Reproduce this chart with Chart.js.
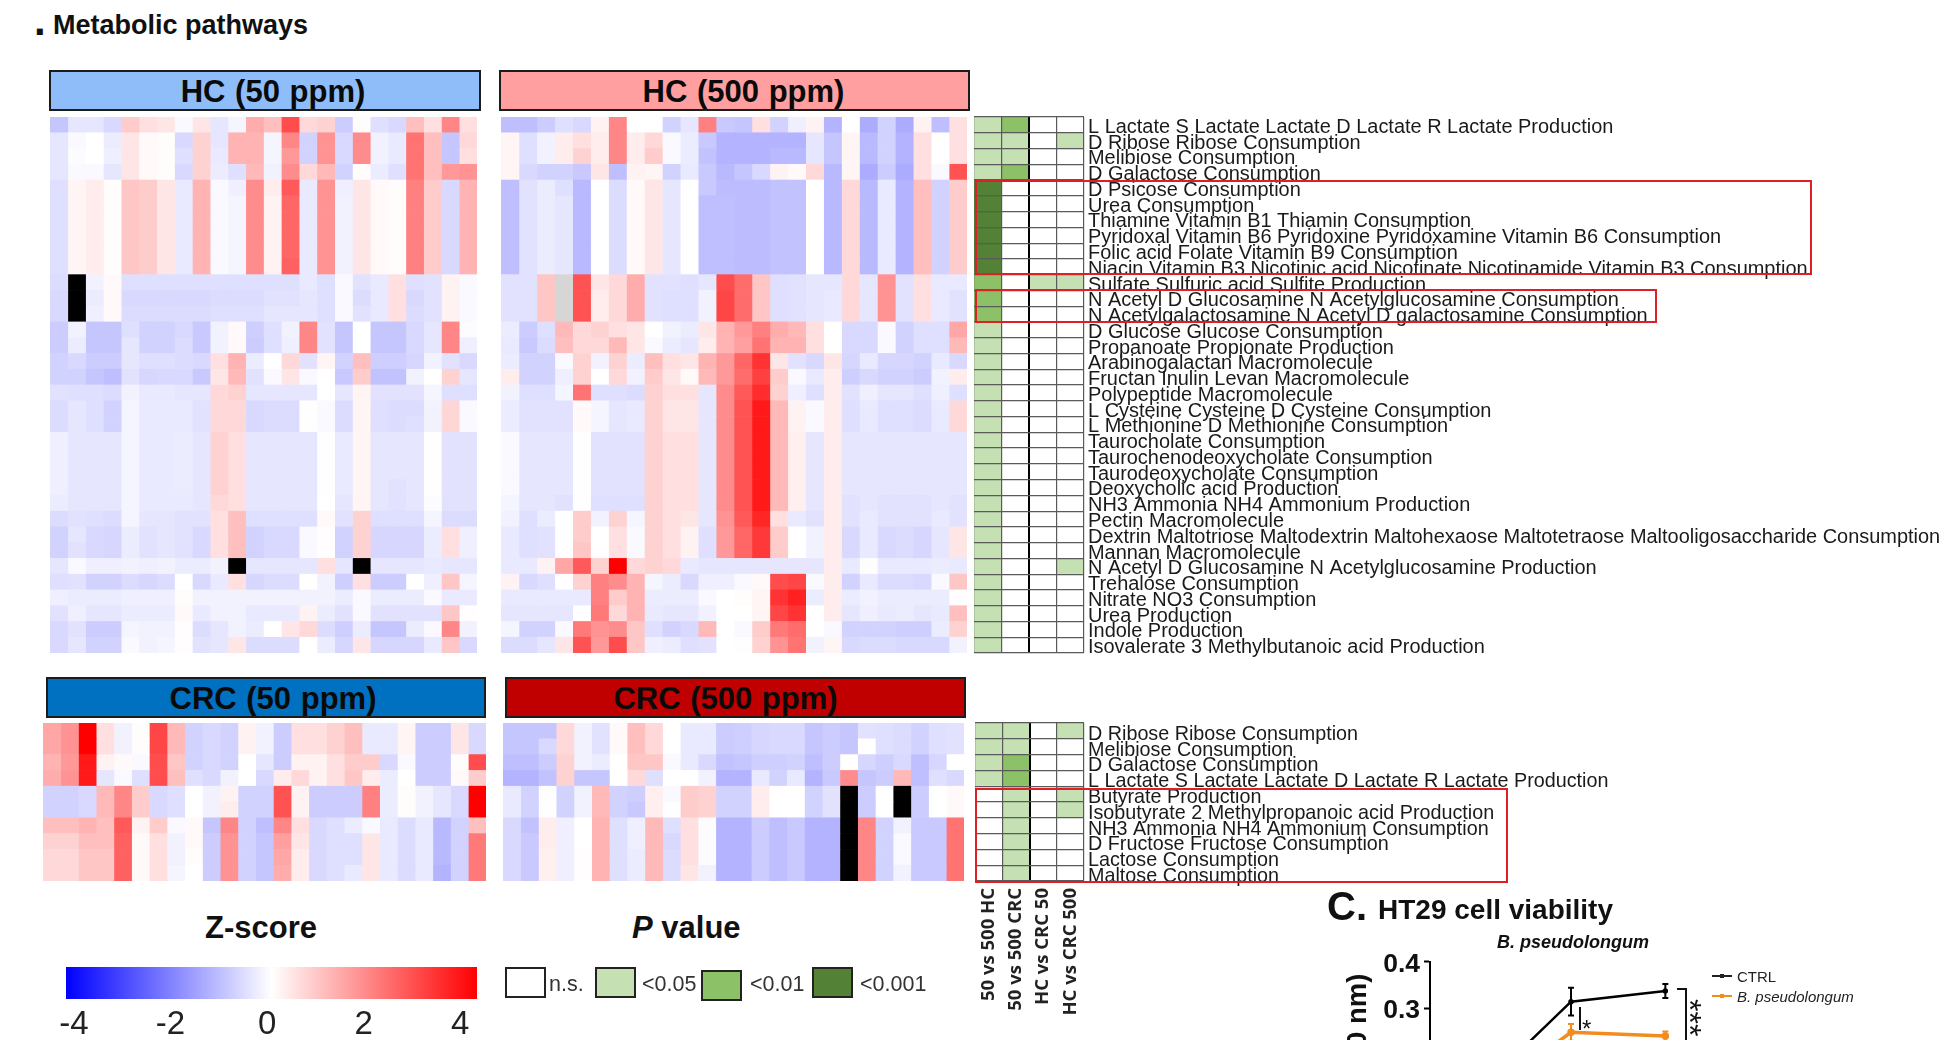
<!DOCTYPE html>
<html><head><meta charset="utf-8">
<script src="https://cdn.jsdelivr.net/npm/chart.js@4"></script>
<style>
html,body{margin:0;padding:0;width:1946px;height:1040px;overflow:hidden;background:#fff;font-family:"Liberation Sans",Arial,sans-serif;color:#111}
canvas{position:absolute;display:block}
.t{position:absolute;white-space:nowrap;line-height:1}
.hdr{position:absolute;box-sizing:border-box;border:2px solid #1c1c1c;display:flex;align-items:center;justify-content:center;font-weight:bold;font-size:31px;word-spacing:1px;color:#0a0a0a}
.box{position:absolute;box-sizing:border-box;border:2px solid #dd1f26;z-index:5;pointer-events:none}
.sw{position:absolute;box-sizing:border-box;border:2px solid #222}
.ln{position:absolute;background:#111}
</style></head><body>
<script>
const X = null;      // black cell: no value
const G = 'gray';    // grey cell

const pathwaysTop = ["L Lactate S Lactate Lactate D Lactate R Lactate Production","D Ribose Ribose Consumption","Melibiose Consumption","D Galactose Consumption","D Psicose Consumption","Urea Consumption","Thiamine Vitamin B1 Thiamin Consumption","Pyridoxal Vitamin B6 Pyridoxine Pyridoxamine Vitamin B6 Consumption","Folic acid Folate Vitamin B9 Consumption","Niacin Vitamin B3 Nicotinic acid Nicotinate Nicotinamide Vitamin B3 Consumption","Sulfate Sulfuric acid Sulfite Production","N Acetyl D Glucosamine N Acetylglucosamine Consumption","N Acetylgalactosamine N Acetyl D galactosamine Consumption","D Glucose Glucose Consumption","Propanoate Propionate Production","Arabinogalactan Macromolecule","Fructan Inulin Levan Macromolecule","Polypeptide Macromolecule","L Cysteine Cysteine D Cysteine Consumption","L Methionine D Methionine Consumption","Taurocholate Consumption","Taurochenodeoxycholate Consumption","Taurodeoxycholate Consumption","Deoxycholic acid Production","NH3 Ammonia NH4 Ammonium Production","Pectin Macromolecule","Dextrin Maltotriose Maltodextrin Maltohexaose Maltotetraose Maltooligosaccharide Consumption","Mannan Macromolecule","N Acetyl D Glucosamine N Acetylglucosamine Production","Trehalose Consumption","Nitrate NO3 Consumption","Urea Production","Indole Production","Isovalerate 3 Methylbutanoic acid Production"];
const pathwaysBottom = ["D Ribose Ribose Consumption","Melibiose Consumption","D Galactose Consumption","L Lactate S Lactate Lactate D Lactate R Lactate Production","Butyrate Production","Isobutyrate 2 Methylpropanoic acid Production","NH3 Ammonia NH4 Ammonium Consumption","D Fructose Fructose Consumption","Lactose Consumption","Maltose Consumption"];
const comparisons = ["50 vs 500 HC","50 vs 500 CRC","HC vs CRC 50","HC vs CRC 500"];
const zTicks = [-4,-2,0,2,4];

const hc50 = [
[-.9,-.4,-.4,-.6,.8,.5,.4,-.1,.4,-.4,-.15,1.3,1,2.8,.6,.7,-.8,.05,-.5,-.6,1,.5,1.9,.5],
[-.4,-.1,0,-.3,.4,.1,.05,-.6,.7,-.4,1.2,1.2,-.15,1.9,-.7,1.7,-.6,1.8,-.2,-.35,2.2,1,-.9,.6],
[-.4,-.05,0,-.25,.4,.1,.05,-.5,.7,-.35,1.2,1.2,-.15,1.6,-.7,1.7,-.6,1.8,-.2,-.35,2.2,1,-.9,.5],
[-.4,-.1,-.1,-.4,.4,.1,.05,-.6,.7,-.3,-.5,1.1,-.2,1.8,.6,1.1,-.7,.05,-.3,-.5,2.2,1,1.6,1.7],
[-.5,.15,.3,.05,.9,.8,.4,-.35,1.2,-.1,-.25,1.8,.3,2.6,-.35,1.7,-.25,.4,.1,.05,2,.8,-.6,1.2],
[-.5,.15,.3,.05,.9,.8,.4,-.35,1.2,-.1,-.15,1.8,.2,2.4,-.35,1.7,-.2,.4,.1,.05,2,.8,-.6,1.2],
[-.5,.15,.3,.05,.9,.8,.4,-.35,1.2,-.1,-.15,1.8,.2,2.4,-.35,1.7,-.2,.4,.1,.05,2,.8,-.6,1.2],
[-.5,.15,.3,.05,.9,.8,.4,-.35,1.2,-.1,-.15,1.8,.2,2.4,-.35,1.7,-.2,.4,.1,.05,2,.8,-.6,1.2],
[-.5,.15,.3,.05,.9,.8,.4,-.35,1.2,-.1,-.15,1.8,.2,2.4,-.35,1.7,-.2,.4,.1,.05,2,.8,-.6,1.2],
[-.5,.15,.3,.05,.9,.8,.4,-.35,1.2,-.1,-.15,1.8,.2,2.5,-.35,1.7,-.2,.4,.1,.05,2,.8,-.6,1.2],
[-.55,X,-.2,.1,-.5,-.5,-.5,-.5,-.5,-.5,-.5,-.5,-.5,-.5,-.35,-.5,-.1,-.45,-.35,.5,-.5,-.45,.2,-.1],
[-.6,X,-.3,.1,-.6,-.6,-.6,-.6,-.6,-.55,-.55,-.55,-.45,-.45,-.4,-.5,-.1,-.55,-.35,.5,-.6,-.45,.2,-.1],
[-.6,X,-.25,.1,-.55,-.55,-.55,-.55,-.55,-.5,-.5,-.5,-.4,-.4,-.4,-.5,-.1,-.45,-.35,.5,-.55,-.45,.2,-.1],
[-.8,-.2,-.9,-.9,-.5,-.7,-.7,-.6,-.85,-.2,.1,-.75,-.5,-.2,1.9,-.45,-.9,0,-.9,-.9,-.6,-.4,1.9,-.05],
[-.8,-.3,-.9,-.9,-.4,-.7,-.7,-.55,-.85,-.2,.1,-.8,-.5,-.25,1.9,-.45,-.9,0,-.9,-.9,-.6,-.4,1.9,-.25],
[-.7,-.6,-.8,-.8,-.4,-.5,-.5,-.55,-.6,.5,1.2,-.3,0,.6,-.45,.15,-.7,1,-.75,-.75,-.65,-.2,-.45,-.6],
[-.7,-.7,-.9,-1,-.45,-.65,-.6,-.6,-.85,.4,1.1,-.45,-.1,.4,-.1,0,-.85,.8,-.95,-.95,-.2,0,.7,-.4],
[-.45,-.5,-.5,-.55,-.2,-.35,-.35,-.4,-.4,.6,.7,-.4,-.4,-.4,-.4,0,-.4,.15,-.45,-.45,-.45,-.15,-.5,-.5],
[-.55,-.4,-.5,-.7,-.15,-.35,-.35,-.35,-.45,.6,.6,-.6,-.55,-.55,-.02,-.1,-.55,.15,-.5,-.55,-.55,-.2,.65,-.1],
[-.55,-.4,-.5,-.7,-.15,-.35,-.35,-.35,-.45,.6,.6,-.6,-.55,-.55,-.02,-.1,-.55,.15,-.5,-.55,-.5,-.2,.65,-.1],
[-.25,-.4,-.4,-.4,-.15,-.35,-.35,-.3,-.4,.7,.5,-.4,-.4,-.4,-.4,-.02,-.35,.15,-.4,-.4,-.4,.03,-.45,-.45],
[-.25,-.4,-.4,-.4,-.15,-.35,-.35,-.3,-.4,.7,.5,-.4,-.4,-.4,-.4,-.02,-.35,.15,-.4,-.4,-.4,.03,-.45,-.45],
[-.25,-.4,-.4,-.4,-.15,-.35,-.35,-.3,-.4,.7,.5,-.4,-.4,-.4,-.4,-.02,-.35,.15,-.4,-.4,-.4,.03,-.45,-.45],
[-.25,-.4,-.4,-.4,-.15,-.35,-.35,-.3,-.4,.7,.5,-.4,-.4,-.4,-.4,-.02,-.35,.15,-.4,-.45,-.4,.03,-.45,-.45],
[-.3,-.4,-.4,-.4,-.15,-.35,-.35,-.35,-.4,.6,.5,-.4,-.4,-.4,-.4,0,-.4,.15,-.4,-.45,-.4,-.05,-.45,-.45],
[-.55,-.45,-.5,-.55,-.15,-.4,-.4,-.45,-.45,.5,1,-.5,-.5,-.5,-.5,.1,-.45,.7,-.5,-.5,-.5,-.15,-.55,-.55],
[-.7,-.4,-.6,-.65,-.3,-.45,-.4,-.45,-.6,.5,1,-.7,-.6,-.6,-.1,.03,-.7,.7,-.65,-.65,-.65,-.3,.5,-.25],
[-.7,-.45,-.6,-.65,-.3,-.45,-.4,-.45,-.6,.5,1,-.7,-.6,-.6,-.1,.03,-.7,.7,-.65,-.65,-.65,-.3,.5,-.25],
[-.4,-.1,-.25,-.25,-.2,-.25,-.2,-.3,-.3,-.2,X,-.4,-.4,-.4,-.4,.5,-.4,X,-.4,-.4,-.4,-.35,-.4,-.4],
[-.5,-.45,-.7,-.7,-.55,-.65,-.55,0,-.6,-.35,.5,-.65,-.55,-.55,0,-.2,-.75,.5,-.8,-.8,0,-.25,.9,-.15],
[-.25,-.3,-.3,-.3,-.25,-.25,-.25,.05,-.2,-.2,-.2,-.2,-.2,-.2,-.2,-.2,-.3,-.1,-.3,-.3,-.3,-.1,-.35,-.35],
[-.45,-.25,-.4,-.4,-.3,-.3,-.3,.1,-.35,-.2,-.2,-.35,-.35,-.35,.2,-.3,-.45,-.1,-.45,-.45,-.45,-.45,.9,.03],
[-.6,-.45,-.8,-.8,-.15,-.2,-.2,.03,-.55,-.4,-.2,-.3,0,.4,.6,-.55,-.75,-.3,-.9,-.9,-.3,-.1,1.9,-.2],
[-.6,-.4,-.7,-.7,-.1,-.2,-.15,.03,-.45,-.4,.4,-.55,-.55,-.55,0,-.3,-.65,.4,-.65,-.65,-.65,-.35,.9,-.6]
];

const hc500 = [
[-1,-1,-.8,-.5,-.6,.2,1.9,0,0,-.7,-.4,2,-.85,-.9,.5,-.7,-.25,.2,-1.2,0,-1.3,-.7,-1.3,.2,-1,.5],
[.15,-.5,-.2,.3,.5,.3,1.9,.3,.6,-.1,-.3,-.85,-1.2,-1.2,-1.2,-1.2,-1.2,-.4,-.9,.15,-1.1,-.7,-1.2,.5,0,.5],
[.15,-.5,-.2,.3,.7,.3,1.9,.3,.8,-.1,-.3,-.95,-1.2,-1.2,-1.2,-1.1,-1.1,-.4,-.9,.15,-1.1,-.7,-1.2,.5,0,.5],
[.15,-.6,-.7,-.7,-.85,.4,-1,.2,.15,-.7,-.35,-.85,-1.1,-.9,-.6,.2,.1,.6,-1.1,.15,-1.3,-.8,-1.3,.5,-.1,2.7],
[-1,-.45,-.3,-.5,-1.1,0,-.55,.1,.4,-.4,0,-.85,-1.05,-1.05,-1.05,-.95,-.95,0,-1.1,.6,-1.1,-.35,-1.2,1,-.7,.8],
[-1,-.45,-.3,-.4,-1.1,0,-.55,.1,.4,-.4,0,-1,-1,-1.05,-1.05,-.95,-.95,0,-1.1,.6,-1.1,-.35,-1.2,1,-.7,.8],
[-1,-.45,-.3,-.4,-1.1,0,-.55,.1,.4,-.4,0,-1,-1,-1.05,-1.05,-.95,-.95,0,-1.1,.6,-1.1,-.35,-1.2,1,-.7,.8],
[-1,-.45,-.3,-.4,-1.1,0,-.55,.1,.4,-.4,0,-1,-1,-1.05,-1.05,-.95,-.95,0,-1.1,.6,-1.1,-.35,-1.2,1,-.7,.8],
[-1,-.45,-.3,-.4,-1.1,0,-.55,.1,.4,-.4,0,-1,-1,-1.05,-1.05,-.95,-.95,0,-1.1,.6,-1.1,-.35,-1.2,1,-.7,.8],
[-1,-.45,-.3,-.4,-1.1,0,-.55,.1,.4,-.4,0,-1,-1,-1.05,-1.05,-.95,-.95,0,-1.1,.6,-1.1,-.35,-1.2,1,-.7,.8],
[-.45,-.45,.9,G,2.7,.4,.6,1.3,-.45,-.45,-.5,-.4,2.8,2.3,.9,-.5,-.45,-.4,-.4,.6,-.4,1.7,-.45,.5,-.35,-.35],
[-.45,-.45,.9,G,2.7,.3,.6,1.3,-.45,-.5,-.5,-.2,2.9,2.3,.9,-.5,-.45,-.4,-.35,.6,-.4,1.7,-.45,.5,-.35,-.45],
[-.45,-.45,.9,G,2.7,.3,.6,1.3,-.45,-.5,-.5,-.2,2.9,2.3,.9,-.5,-.45,-.4,-.35,.6,-.4,1.7,-.45,.5,-.35,-.45],
[-.3,-.8,-.5,1.1,.6,.7,.5,.4,0,-.2,-.3,.4,1.2,1.6,2,1.3,1.1,.5,0,-.6,-.6,-.1,-.7,-.5,-.5,1.4],
[-.35,-.85,-.55,1,.6,.6,1.1,.4,-.1,-.3,-.4,.3,1.2,1.5,2.2,1.2,1.2,.5,0,-.6,-.6,-.1,-.7,-.5,-.5,1.1],
[-.3,-.7,-.7,-.1,.7,-.2,.7,-.3,1,.5,.4,1.2,1.6,2.4,3.2,.4,-.45,-.6,.4,-.65,-.35,-.65,-.65,-.7,-.35,-.6],
[.3,-.7,-.7,-.25,.7,0,.6,-.2,.8,.4,.1,1.1,1.6,2.3,3,.8,-.1,-.35,.3,-.75,-.6,-.7,-.7,-.8,-.2,.3],
[-.2,-.5,-.5,-.15,2.2,-.5,-.5,-.55,.7,.5,.5,-.4,1.8,2.6,3.3,.7,-.25,-.5,.3,-.45,-.25,-.4,-.4,-.5,-.25,-.5],
[-.3,-.45,-.45,-.45,.1,-.15,-.4,-.35,.7,.4,.4,-.4,1.8,2.7,3.6,1.1,.2,-.1,.3,-.5,-.35,-.5,-.5,-.55,-.35,.6],
[-.3,-.45,-.45,-.45,.1,-.15,-.4,-.35,.7,.4,.4,-.4,1.8,2.7,3.6,1.1,.2,-.1,.3,-.5,-.35,-.5,-.5,-.55,-.35,.6],
[-.1,-.4,-.4,-.4,.02,-.45,-.45,-.45,.7,.5,.5,-.4,1.8,2.7,3.6,1.1,.25,-.4,.3,-.4,-.4,-.4,-.4,-.4,-.4,-.4],
[-.1,-.4,-.4,-.4,.02,-.45,-.45,-.45,.7,.5,.5,-.4,1.8,2.7,3.6,1.1,.25,-.4,.3,-.4,-.4,-.4,-.4,-.4,-.4,-.4],
[-.1,-.4,-.4,-.4,.02,-.45,-.45,-.45,.7,.5,.5,-.4,1.8,2.7,3.6,1.1,.25,-.4,.3,-.4,-.4,-.4,-.4,-.4,-.4,-.4],
[-.1,-.4,-.4,-.4,.02,-.45,-.45,-.45,.7,.5,.5,-.4,1.8,2.7,3.6,1.1,.25,-.4,.3,-.4,-.4,-.4,-.4,-.4,-.4,-.4],
[-.15,-.4,-.4,-.45,.02,-.5,-.5,-.5,.7,.5,.5,-.4,1.8,2.7,3.6,1.1,.25,-.4,.3,-.45,-.4,-.45,-.45,-.45,-.4,-.45],
[-.2,-.5,-.3,0,.8,-.2,.7,-.15,.7,.5,.4,-.4,1.7,2.6,3.4,.5,-.35,-.45,.3,-.45,-.35,-.45,-.45,-.45,-.35,-.45],
[-.35,-.5,-.45,0,.8,0,.5,-.1,.7,.5,.2,-.5,1.6,2.4,3.1,.8,0,-.2,.3,-.6,-.35,-.6,-.55,-.65,-.4,.4],
[-.35,-.5,-.45,0,.9,0,.5,-.1,.7,.5,.2,-.5,1.6,2.4,3.1,.8,0,-.2,.3,-.6,-.35,-.6,-.55,-.65,-.4,.4],
[-.35,-.35,.2,1.4,2.6,.7,4,.6,.7,.6,-.35,-.4,-.4,-.4,-.4,-.4,-.4,-.4,.3,-.35,.05,-.35,-.35,-.35,-.3,-.35],
[.2,-.6,-.5,0,.7,2,1.8,1.2,-.15,-.3,-.6,-.25,-.25,-.1,.1,2.8,2.9,-.1,.3,-.7,-.35,-.55,-.55,-.6,-.1,.9],
[-.35,-.35,-.35,-.35,-.35,2,.8,1.2,-.3,-.3,-.3,-.1,0,.05,.15,3.2,3.5,-.3,.3,-.3,-.2,-.3,-.3,-.3,-.3,.02],
[-.4,-.4,-.4,-.4,-.02,2.1,.6,1.2,-.35,-.4,-.4,-.2,0,0,.15,2.9,3.2,0,.3,-.4,-.25,-.35,-.3,-.4,-.35,1],
[-.15,-.7,-.7,-.1,2.1,1.7,1.8,.9,-.5,-.7,-.6,1.1,0,-.1,.8,2.1,2.3,0,-.1,-.7,-.7,-.7,-.75,-.75,-.3,.7],
[-.55,-.55,-.4,.4,2.7,1.6,2.8,.9,-.25,-.3,-.5,-.45,0,.02,.7,1.7,2.2,-.2,.15,-.6,-.55,-.55,-.6,-.6,-.6,-.2]
];

const crc50 = [
[1.4,1.7,4,.5,-.2,.05,2.9,1.1,-.7,-.6,-.7,.2,-.2,-.8,.5,.5,.7,1,-.35,-.35,.15,-.8,-.8,.4,-.6],
[1.4,1.7,4,.5,-.2,.05,2.9,1.1,-.7,-.6,-.7,.2,-.2,-.8,.5,.5,.7,1,-.35,-.35,.15,-.8,-.8,.4,-.6],
[1.2,1.6,3.6,.2,.1,-.1,2.8,.9,-.7,-.6,-.7,0,-.4,-.8,.2,.2,.5,.8,.8,-.6,-.1,-.8,-.8,.05,2.8],
[1.3,1.7,3.6,-.4,-.1,-.5,2.8,1,-.5,-.6,-.2,0,-.6,.3,.6,.2,.5,.9,.3,-.3,0,-.8,-.8,.1,.8],
[-.7,-.7,-.6,1.1,1.9,.8,-.6,-.5,0,-.2,.2,-.7,-.7,2.7,.2,-.8,-.8,-.8,2,-.3,.05,-.2,-.4,-.6,4],
[-.7,-.7,-.6,1.1,1.9,.8,-.6,-.5,0,-.2,.3,-.7,-.7,2.7,.2,-.8,-.8,-.8,2,-.3,.05,-.2,-.4,-.6,4],
[1,1,1.2,1,2.6,.2,.8,-.1,.1,-.9,1.9,-.7,-1,1.9,.5,-.6,-.5,-.3,-.1,-.35,-.55,-.35,-1.1,-.7,1],
[.7,.7,1,1,2.5,.1,.5,-.2,.1,-.8,1.7,-.7,-.9,1.5,.4,-.6,-.5,-.5,.4,-.35,-.55,-.35,-1.1,-.7,2.1],
[.6,.6,.9,.9,2.5,.1,.5,-.2,.05,-.8,1.7,-.7,-.9,1.4,.3,-.6,-.5,-.5,.4,-.35,-.55,-.35,-1.1,-.7,2.1],
[.6,.6,.9,.9,2.5,.1,.5,-.15,0,-.8,1.7,-.7,-.9,1.3,.3,-.6,-.5,-.35,.4,-.35,-.55,-.35,-1.2,-.7,2.1]
];

const crc500 = [
[-.9,-.9,-.9,.6,-.2,-.45,.1,1,.6,0,-.35,-.35,-.8,-.75,-.65,-.6,-.6,-.9,-.8,-.9,-.45,-.5,-.55,-.7,-.5,-.45],
[-.9,-.9,-.6,.6,-.2,-.45,.1,1,.6,0,-.35,-.35,-.8,-.75,-.65,-.6,-.6,-.9,-.8,-.9,0,-.5,-.55,-.7,-.5,-.45],
[-1,-1,-.8,.7,-.2,-.3,0,.9,.9,-.1,-.35,-.6,-.95,-.9,-.75,-.75,-.7,-1,-.8,0,-.65,-.75,-.6,-1,-.65,0],
[-1.2,-1.2,-.95,.7,-.9,-.9,0,.6,-.5,0,0,-.2,-1.2,-1.2,-.35,-.7,-.35,-1.2,-.85,1.8,-.9,-.8,1.1,-1,-.5,-.6],
[-.35,-.7,-.02,-.7,-.2,1.1,-.7,-.75,.25,-.1,.8,.7,-.7,-.7,.3,0,0,-.7,-.45,X,-.8,0,X,-.8,0,.1],
[-.35,-.7,-.02,-.7,-.2,1.1,-.7,-.85,.25,-.02,.8,.7,-.7,-.7,.3,0,0,-.7,-.45,X,-.8,0,X,-.8,0,.1],
[-.6,-.95,.3,-.25,0,1.2,-.5,-.25,1.1,-.5,.5,-.05,-1.2,-1.2,-.8,-1,-.85,-1.2,-1.2,X,1.9,-.7,-.2,-.85,-.85,2.2],
[-.6,-.85,.3,-.25,0,1.2,-.5,-.25,1.1,-.6,.5,-.05,-1.2,-1.2,-.8,-1,-.85,-1.2,-1.2,X,1.9,-.7,-.1,-.85,-.85,2.2],
[-.6,-.85,.25,-.25,.03,1.2,-.5,-.3,1.1,-.55,.5,-.05,-1.2,-1.2,-.8,-1,-.85,-1.2,-1.2,X,1.9,-.7,-.1,-.85,-.85,2.2],
[-.6,-.85,.25,-.25,.03,1.2,-.5,-.3,1.1,-.55,.4,-.2,-1.2,-1.2,-.8,-1,-.85,-1.2,-1.2,X,1.9,-.7,-.2,-.85,-.85,2.2]
];

// significance level: 0 n.s., 1 <0.05, 2 <0.01, 3 <0.001
const pTop = [[1,2,0,0],[1,1,0,1],[1,1,0,0],[1,2,0,0],[3,0,0,0],[3,0,0,0],[3,0,0,0],[3,0,0,0],[3,0,0,0],[3,0,0,0],[2,0,1,1],[2,0,0,0],[2,0,0,0],[1,0,0,0],[1,0,0,0],[1,0,0,0],[1,0,0,0],[1,0,0,0],[1,0,0,0],[1,0,0,0],[1,0,0,0],[1,0,0,0],[1,0,0,0],[1,0,0,0],[1,0,0,0],[1,0,0,0],[1,0,0,0],[1,0,0,0],[1,0,0,1],[1,0,0,0],[1,0,0,0],[1,0,0,0],[1,0,0,0],[1,0,0,0]];
const pBottom = [[1,1,0,1],[1,1,0,0],[1,2,0,0],[1,2,0,0],[0,1,0,1],[0,1,0,1],[0,1,0,0],[0,1,0,0],[0,1,0,0],[0,1,0,0]];
const pColors = ['#ffffff','#c5e0b3','#8cc168','#538135'];
const pLegend = ['n.s.','<0.05','<0.01','<0.001'];

// Panel C
const timeIdx = [0,1,2];
const ctrlValues = [.118,.314,.337];
const ctrlErrors = [.012,.03,.015];
const bpValues = [.1,.248,.24];
const bpErrors = [.01,.018,.01];
const yTicksC = [0,.1,.2,.3,.4];

Chart.defaults.animation = false;
Chart.defaults.responsive = false;
Chart.defaults.plugins.legend.display = false;
Chart.defaults.plugins.tooltip.enabled = false;
Chart.defaults.font.family = '"Liberation Sans"';

function addCanvas(l,t,w,h){
  const c=document.createElement('canvas');
  c.width=Math.round(w);c.height=Math.round(h);
  c.style.left=l+'px';c.style.top=t+'px';
  document.body.appendChild(c);return c;
}
function zColor(z){
  if(z===null) return '#000000';
  if(z==='gray') return '#d6d6d6';
  const a=Math.min(1,Math.abs(z)/4), v=Math.round(255*(1-a));
  return z<0?`rgb(${v},${v},255)`:`rgb(255,${v},${v})`;
}
function cellDatasets(rowLabels,matrix,colorOf){
  return matrix[0].map((_,c)=>({
    label:'col '+(c+1),
    data:matrix.map((r,i)=>({x:1,y:rowLabels[i],z:r[c]})),
    backgroundColor:matrix.map(r=>colorOf(r[c])),
    borderWidth:0,barPercentage:1,categoryPercentage:1
  }));
}
function heat(x0,x1,y0,y1,rowLabels,matrix){
  const w=x1-x0,h=y1-y0;
  new Chart(addCanvas(x0,y0,w,h),{type:'bar',
    data:{labels:rowLabels,datasets:cellDatasets(rowLabels,matrix,zColor)},
    options:{indexAxis:'y',layout:{padding:0},scales:{
      x:{stacked:true,display:false,min:0,max:matrix[0].length},
      y:{stacked:true,display:false}
    }}});
}
function pGrid(x0,x1,y0,y1,rowLabels,matrix,showCols,labelSize,labelShift){
  const pad=12, axisW=1946-x1, bottomH=showCols?140:0;
  new Chart(addCanvas(x0,y0-pad,1946-x0,y1-y0+pad+(showCols?bottomH:pad)),{type:'bar',
    data:{labels:rowLabels,datasets:cellDatasets(rowLabels,matrix,v=>pColors[v])},
    options:{indexAxis:'y',layout:{padding:{top:pad,bottom:showCols?0:pad,left:0,right:0}},scales:{
      x:{stacked:true,display:false,min:0,max:4},
      xCols:{type:'category',axis:'x',labels:comparisons,position:'bottom',offset:true,
        afterFit:s=>{s.height=bottomH;s.paddingLeft=0;s.paddingRight=0;},
        border:{display:false},
        grid:{offset:true,z:1,drawTicks:false,
          color:c=>c.index===2?'#000':'#5a5a5a',lineWidth:c=>c.index===2?2:1.2},
        ticks:{display:showCols,minRotation:90,maxRotation:90,autoSkip:false,padding:7,color:'#222',
          font:{family:'"Open Sans"',weight:'bold',size:18.5}}},
      y:{stacked:true,position:'right',
        afterFit:s=>{s.width=axisW;s.paddingTop=0;s.paddingBottom=0;},
        border:{display:false},
        grid:{offset:true,z:1,drawTicks:false,color:'#5a5a5a',lineWidth:1.2},
        ticks:{autoSkip:false,padding:4,labelOffset:labelShift,color:'#1a1a1a',font:{size:labelSize}}}
    }}});
}

heat(50,477,117,653,pathwaysTop,hc50);
heat(501,967,117,653,pathwaysTop,hc500);
heat(43,486,723,881,pathwaysBottom,crc50);
heat(503,964,723,881,pathwaysBottom,crc500);
pGrid(974,1084,117,653,pathwaysTop,pTop,false,19.95,2.5);
pGrid(975,1084,723,881,pathwaysBottom,pBottom,true,19.75,3.5);

// Z-score colour bar
new Chart(addCanvas(26,967,491,73),{type:'bar',
  data:{labels:['Z-score'],datasets:[{data:[[-4,4]],xAxisID:'xBar',borderWidth:0,barPercentage:1,categoryPercentage:1,
    backgroundColor:c=>{
      const a=c.chart.chartArea; if(!a) return '#fff';
      const g=c.chart.ctx.createLinearGradient(a.left,0,a.right,0);
      g.addColorStop(0,'#0000ff');g.addColorStop(.5,'#ffffff');g.addColorStop(1,'#ff0000');return g;
    }}]},
  options:{indexAxis:'y',layout:{padding:{left:40,right:40}},scales:{
    xBar:{type:'linear',axis:'x',display:false,min:-4,max:4},
    x:{type:'linear',position:'bottom',min:-4.166,max:4.35,
      afterFit:s=>{s.height=41},
      afterBuildTicks:s=>{s.ticks=zTicks.map(v=>({value:v}))},
      border:{display:false},grid:{display:false,drawTicks:false},
      ticks:{padding:6,color:'#222',font:{size:33},maxRotation:0,autoSkip:false,callback:v=>String(v)}},
    y:{display:false}
  }}});

// Panel C
const errorBars={id:'errorBars',afterDatasetsDraw(ch){
  const {ctx,scales:{x,y}}=ch;
  [[ctrlValues,ctrlErrors,'#000'],[bpValues,bpErrors,'#f28c1e']].forEach(([vals,errs,col])=>{
    ctx.save();ctx.strokeStyle=col;ctx.lineWidth=2;
    vals.forEach((v,i)=>{
      const px=x.getPixelForValue(timeIdx[i]),t=y.getPixelForValue(v+errs[i]),b=y.getPixelForValue(v-errs[i]);
      ctx.beginPath();ctx.moveTo(px,t);ctx.lineTo(px,b);
      ctx.moveTo(px-3,t);ctx.lineTo(px+3,t);ctx.moveTo(px-3,b);ctx.lineTo(px+3,b);ctx.stroke();
    });ctx.restore();
  });
}};
new Chart(addCanvas(1342,940,378,215),{type:'line',
  data:{datasets:[
    {label:'CTRL',data:timeIdx.map((t,i)=>({x:t,y:ctrlValues[i]})),borderColor:'#000',backgroundColor:'#000',borderWidth:2.5,pointRadius:1.5,tension:0},
    {label:'B. pseudolongum',data:timeIdx.map((t,i)=>({x:t,y:bpValues[i]})),borderColor:'#f28c1e',backgroundColor:'#f28c1e',borderWidth:3.5,pointRadius:2,tension:0}
  ]},
  plugins:[errorBars],
  options:{layout:{padding:{top:21.7,right:5.5,bottom:0,left:0}},scales:{
    x:{type:'linear',display:false,min:-.495,max:2.5},
    y:{type:'linear',min:0,max:.4,
      afterFit:s=>{s.width=88;s.paddingTop=0;s.paddingBottom=0;},
      afterBuildTicks:s=>{s.ticks=yTicksC.map(v=>({value:v}))},
      border:{color:'#000',width:2},
      grid:{drawOnChartArea:false,drawTicks:true,tickLength:6,tickColor:'#000',tickWidth:2},
      title:{display:true,text:'OD (570 nm)',color:'#111',padding:0,font:{size:27.5,weight:'bold'}},
      ticks:{padding:4,labelOffset:2.5,color:'#111',font:{size:26.5,weight:'bold'},callback:v=>v.toFixed(1)}}
  }}});

// Page text and frames
function t(txt,x,y,css){const d=document.createElement('div');d.className='t';d.innerHTML=txt;d.style.cssText+=`left:${x}px;top:${y}px;`+css;document.body.appendChild(d);return d;}
function hdr(txt,x0,x1,y0,y1,bg,shift){const d=document.createElement('div');d.className='hdr';d.textContent=txt;d.style.cssText+=`left:${x0}px;top:${y0}px;width:${x1-x0}px;height:${y1-y0}px;background:${bg};padding-top:2px;`+(shift>0?`padding-left:${shift}px;`:`padding-right:${-shift}px;`);document.body.appendChild(d);}
function box(x0,x1,y0,y1){const d=document.createElement('div');d.className='box';d.style.cssText+=`left:${x0}px;top:${y0}px;width:${x1-x0}px;height:${y1-y0}px;`;document.body.appendChild(d);}

t('.',34,-3,'font:bold 42px "Liberation Sans"');
t('Metabolic pathways',53,10,'font:bold 27px "Liberation Sans"');
hdr('HC (50 ppm)',49,481,70,111,'#8fbdf9',16);
hdr('HC (500 ppm)',499,970,70,111,'#ff9f9f',18);
hdr('CRC (50 ppm)',46,486,677,718,'#0070c0',14);
hdr('CRC (500 ppm)',505,966,677,718,'#c00000',-20);
box(975,1812,180,275);
box(975,1657,289,323);
box(975,1508,788,883);

t('Z-score',205,910,'font:bold 31px "Liberation Sans"');
t('<i>P</i> value',632,910,'font:bold 31px "Liberation Sans"');

[[505,967,0,549],[595,967,1,642],[701,970,2,750],[812,967,3,860]].forEach(([x,y,i,tx])=>{
  const s=document.createElement('div');s.className='sw';
  s.style.cssText+=`left:${x}px;top:${y}px;width:41px;height:31px;background:${pColors[i]};`;
  document.body.appendChild(s);
  t(pLegend[i].replace('<','&lt;'),tx,972,'font:21.5px "Liberation Sans";color:#333');
});

t('C.',1327,884,'font:bold 40px "Liberation Sans"');
t('HT29 cell viability',1378,894,'font:bold 28px "Liberation Sans"');
t('B. pseudolongum',1497,932,'font:italic bold 18px "Liberation Sans"');
// legend of panel C
[[976,'#222','CTRL','normal'],[996,'#f28c1e','B. pseudolongum','italic']].forEach(([y,c,n,st])=>{
  const l=document.createElement('div');l.className='ln';
  l.style.cssText+=`left:1712px;top:${y-1}px;width:20px;height:2px;background:${c};`;document.body.appendChild(l);
  const p=document.createElement('div');p.className='ln';
  p.style.cssText+=`left:1720px;top:${y-2}px;width:4px;height:4px;background:${c};`;document.body.appendChild(p);
  t(n,1737,y-8,`font:${st} 15px "Liberation Sans";color:#222`);
});
// significance marks
function line(x,y,w,h){const d=document.createElement('div');d.className='ln';d.style.cssText+=`left:${x}px;top:${y}px;width:${w}px;height:${h}px;`;document.body.appendChild(d);}
line(1579,1007,2,23);
t('*',1582,1014.5,'font:24px "Liberation Sans"');
line(1677,988,10,2);line(1685,988,2,60);
t('***',1708,999,'font:32px "Liberation Sans";transform-origin:0 0;transform:rotate(90deg)');
</script>
</body></html>
